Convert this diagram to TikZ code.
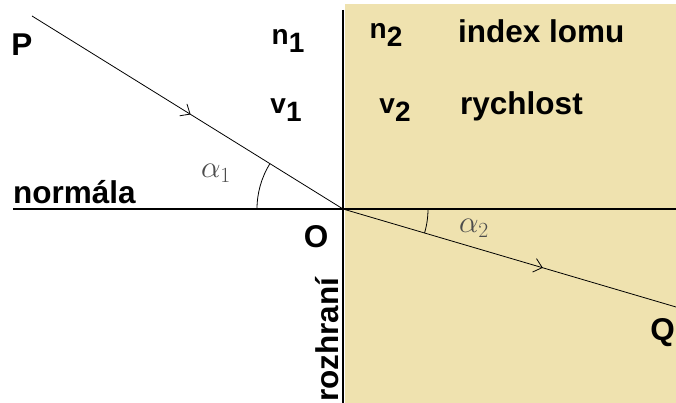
\documentclass[tikz,border=0pt]{standalone}
\usepackage{fontspec}
\setsansfont{Liberation Sans}
\usepackage{xcolor}
\usepackage{tikz}
\usetikzlibrary{arrows.meta,decorations.markings,calc}
\definecolor{medium}{RGB}{239,226,175}
\tikzset{
  lbl/.style={font=\sffamily\bfseries\fontsize{31.5}{36}\selectfont, inner sep=0pt},
  qty/.style={font=\sffamily\bfseries\fontsize{28}{32}\selectfont, inner sep=0pt},
  ang/.style={font=\fontsize{24}{28}\selectfont, scale=1.25, text=black!70, inner sep=0pt},
  axis/.style={line width=1.6pt},
  ray/.style={line width=0.8pt, black, postaction={decorate},
    decoration={markings, mark=at position #1 with {\arrow{Straight Barb[length=8pt,width=14pt]}}}},
  arcline/.style={line width=0.8pt, black},
}
\newcommand{\ix}[1]{\raisebox{-8pt}{#1}}

\begin{document}
\begin{tikzpicture}[x=1pt,y=1pt]
\useasboundingbox (0,0) rectangle (676,403);
\clip (0,0) rectangle (676,403);
\fill[medium] (345,0) rectangle (676,399);
\coordinate (O) at (343,194);
\coordinate (P0) at (32,387);
\coordinate (Q0) at (676,96);
\coordinate (top) at (343,393);
\coordinate (bot) at (343,0);
\coordinate (nl) at (13,194);
\coordinate (nr) at (676,194);
% rozhrani a normala
\draw[axis] (top) -- (bot);
\draw[axis] (nl) -- (nr);
% paprsek
\draw[ray=0.51] (P0) -- (O);
\draw[ray=0.6] (O) -- (Q0);
\draw[arcline] ($(O)+(180:86)$) arc[start angle=180, end angle=148.2, radius=86];
\draw[arcline] ($(O)+(0:85)$) arc[start angle=0, end angle=-16.4, radius=85];
% popisky
\node[lbl] (p) at (22,358) {P};
\node[lbl, anchor=south east] (q) at (675,56) {Q};
\node[lbl] (o) at (316,166) {O};
\node[lbl, anchor=base west] (norm) at (13,199) {normála};
\node[lbl, anchor=base west, rotate=90] (roz) at (338,1) {rozhraní};
\node[qty] (n1) at (288,362) {n\ix{1}};
\node[qty] (v1) at (286,293) {v\ix{1}};
\node[qty] (n2) at (386,368) {n\ix{2}};
\node[qty] (v2) at (395,293) {v\ix{2}};
\node[lbl, anchor=base west] (idx) at (458,360) {index lomu};
\node[lbl, anchor=base west] (rych) at (460,288) {rychlost};
\node[ang] (a1) at (216,230) {$\alpha_1$};
\node[ang] (a2) at (474,175) {$\alpha_2$};
\end{tikzpicture}
\end{document}
